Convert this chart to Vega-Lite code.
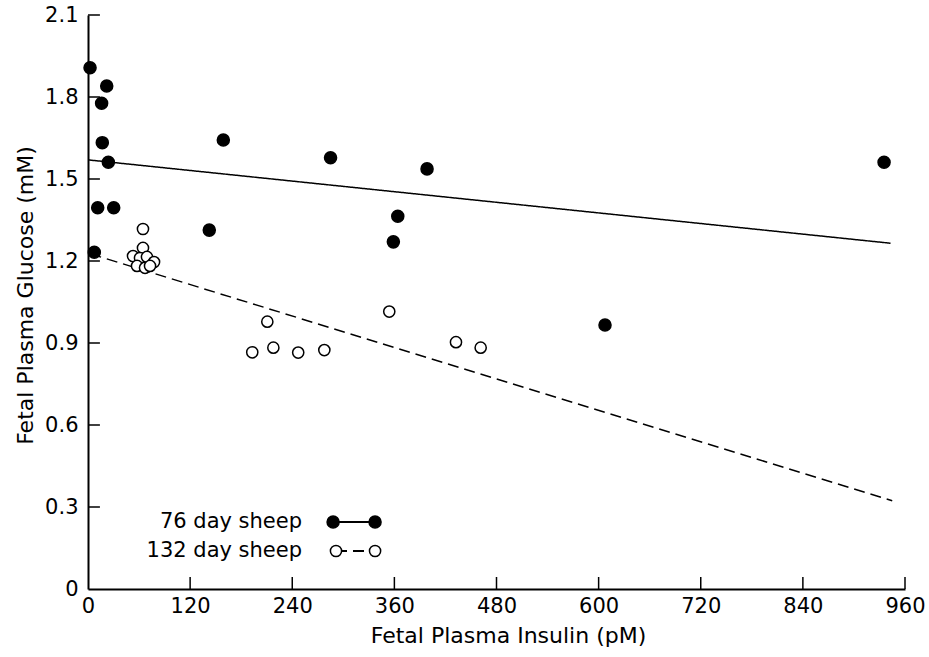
{
  "$schema": "https://vega.github.io/schema/vega-lite/v6.json",
  "width": 817,
  "height": 574,
  "autosize": "none",
  "padding": {"left": 88, "top": 15, "right": 24, "bottom": 68},
  "background": "white",
  "config": {
    "view": {"stroke": null},
    "font": "DejaVu Sans",
    "axis": {
      "grid": false,
      "domainColor": "black",
      "domainWidth": 2,
      "ticks": false,
      "labelFont": "DejaVu Sans",
      "labelFontSize": 21,
      "labelColor": "black",
      "titleFont": "DejaVu Sans",
      "titleFontSize": 22,
      "titleFontWeight": "normal",
      "titleColor": "black"
    }
  },
  "datasets": {
    "points": [
      {"series": "76 day sheep", "insulin": 2.4, "glucose": 1.907},
      {"series": "76 day sheep", "insulin": 22, "glucose": 1.84},
      {"series": "76 day sheep", "insulin": 16, "glucose": 1.777},
      {"series": "76 day sheep", "insulin": 16.8, "glucose": 1.633},
      {"series": "76 day sheep", "insulin": 23.9, "glucose": 1.561},
      {"series": "76 day sheep", "insulin": 11.4, "glucose": 1.395},
      {"series": "76 day sheep", "insulin": 30.2, "glucose": 1.395},
      {"series": "76 day sheep", "insulin": 7.4, "glucose": 1.232},
      {"series": "76 day sheep", "insulin": 142.5, "glucose": 1.313},
      {"series": "76 day sheep", "insulin": 159, "glucose": 1.643},
      {"series": "76 day sheep", "insulin": 285, "glucose": 1.578},
      {"series": "76 day sheep", "insulin": 398.4, "glucose": 1.537},
      {"series": "76 day sheep", "insulin": 364, "glucose": 1.364},
      {"series": "76 day sheep", "insulin": 358.8, "glucose": 1.27},
      {"series": "76 day sheep", "insulin": 607.5, "glucose": 0.966},
      {"series": "76 day sheep", "insulin": 935.4, "glucose": 1.561},
      {"series": "132 day sheep", "insulin": 64.6, "glucose": 1.317},
      {"series": "132 day sheep", "insulin": 64.6, "glucose": 1.248},
      {"series": "132 day sheep", "insulin": 52.9, "glucose": 1.218},
      {"series": "132 day sheep", "insulin": 61.1, "glucose": 1.211},
      {"series": "132 day sheep", "insulin": 69.3, "glucose": 1.215},
      {"series": "132 day sheep", "insulin": 77.6, "glucose": 1.196},
      {"series": "132 day sheep", "insulin": 57.6, "glucose": 1.182},
      {"series": "132 day sheep", "insulin": 67.0, "glucose": 1.175},
      {"series": "132 day sheep", "insulin": 72.9, "glucose": 1.182},
      {"series": "132 day sheep", "insulin": 210.7, "glucose": 0.978},
      {"series": "132 day sheep", "insulin": 193, "glucose": 0.866},
      {"series": "132 day sheep", "insulin": 217.8, "glucose": 0.883},
      {"series": "132 day sheep", "insulin": 247, "glucose": 0.865},
      {"series": "132 day sheep", "insulin": 277.7, "glucose": 0.874},
      {"series": "132 day sheep", "insulin": 354, "glucose": 1.015},
      {"series": "132 day sheep", "insulin": 432.4, "glucose": 0.903},
      {"series": "132 day sheep", "insulin": 461.4, "glucose": 0.883}
    ],
    "fits": [
      {"series": "76 day sheep", "insulin": 0, "glucose": 1.57},
      {"series": "76 day sheep", "insulin": 943, "glucose": 1.265},
      {"series": "132 day sheep", "insulin": 3, "glucose": 1.226},
      {"series": "132 day sheep", "insulin": 945, "glucose": 0.323}
    ],
    "legendText": [
      {"series": "76 day sheep", "insulin": 251.5, "glucose": 0.245},
      {"series": "132 day sheep", "insulin": 251.5, "glucose": 0.139}
    ],
    "legendMarks": [
      {"series": "76 day sheep", "insulin": 288, "glucose": 0.245},
      {"series": "76 day sheep", "insulin": 337.3, "glucose": 0.245},
      {"series": "132 day sheep", "insulin": 291.4, "glucose": 0.139},
      {"series": "132 day sheep", "insulin": 337.3, "glucose": 0.139}
    ],
    "xticks": [
      {"insulin": 120, "glucose": 0, "glucose2": 0.044},
      {"insulin": 240, "glucose": 0, "glucose2": 0.044},
      {"insulin": 360, "glucose": 0, "glucose2": 0.044},
      {"insulin": 480, "glucose": 0, "glucose2": 0.044},
      {"insulin": 600, "glucose": 0, "glucose2": 0.044},
      {"insulin": 720, "glucose": 0, "glucose2": 0.044},
      {"insulin": 840, "glucose": 0, "glucose2": 0.044},
      {"insulin": 960, "glucose": 0, "glucose2": 0.044}
    ],
    "yticks": [
      {"glucose": 0.3, "insulin": 0, "insulin2": 14},
      {"glucose": 0.6, "insulin": 0, "insulin2": 14},
      {"glucose": 0.9, "insulin": 0, "insulin2": 14},
      {"glucose": 1.2, "insulin": 0, "insulin2": 14},
      {"glucose": 1.5, "insulin": 0, "insulin2": 14},
      {"glucose": 1.8, "insulin": 0, "insulin2": 14},
      {"glucose": 2.1, "insulin": 0, "insulin2": 14}
    ]
  },
  "encoding": {
    "x": {
      "field": "insulin",
      "type": "quantitative",
      "scale": {"domain": [0, 960], "nice": false, "zero": false},
      "axis": {"values": [0, 120, 240, 360, 480, 600, 720, 840, 960], "title": "Fetal Plasma Insulin (pM)", "labelPadding": 6, "titlePadding": 9, "titleX": 420, "labelFlush": false, "format": "d"}
    },
    "y": {
      "field": "glucose",
      "type": "quantitative",
      "scale": {"domain": [0, 2.1], "nice": false, "zero": false},
      "axis": {"values": [0, 0.3, 0.6, 0.9, 1.2, 1.5, 1.8, 2.1], "title": "Fetal Plasma Glucose (mM)", "labelPadding": 10, "titlePadding": 7, "titleY": 280, "labelFlush": false, "labelExpr": "datum.value == 0 ? '0' : format(datum.value, '.1f')"}
    }
  },
  "layer": [
    {
      "data": {"name": "xticks"},
      "mark": {"type": "rule", "color": "black", "strokeWidth": 1.5},
      "encoding": {"y2": {"field": "glucose2"}}
    },
    {
      "data": {"name": "yticks"},
      "mark": {"type": "rule", "color": "black", "strokeWidth": 1.5},
      "encoding": {"x2": {"field": "insulin2"}}
    },
    {
      "data": {"name": "fits"},
      "mark": {"type": "line", "color": "black", "strokeWidth": 1.5},
      "encoding": {
        "detail": {"field": "series"},
        "strokeDash": {"field": "series", "type": "nominal", "scale": {"domain": ["76 day sheep", "132 day sheep"], "range": [[1, 0], [11, 6]]}, "legend": null}
      }
    },
    {
      "data": {"name": "points"},
      "mark": {"type": "point", "shape": "circle", "stroke": "black", "strokeWidth": 1.5, "opacity": 1},
      "encoding": {
        "fill": {"field": "series", "type": "nominal", "scale": {"domain": ["76 day sheep", "132 day sheep"], "range": ["black", "white"]}, "legend": null},
        "size": {"field": "series", "type": "nominal", "scale": {"domain": ["76 day sheep", "132 day sheep"], "range": [145, 125]}, "legend": null}
      }
    },
    {
      "data": {"name": "legendMarks"},
      "mark": {"type": "line", "color": "black", "strokeWidth": 2},
      "encoding": {
        "detail": {"field": "series"},
        "strokeDash": {"field": "series", "type": "nominal", "scale": {"domain": ["76 day sheep", "132 day sheep"], "range": [[1, 0], [6, 5]]}, "legend": null}
      }
    },
    {
      "data": {"name": "legendMarks"},
      "mark": {"type": "point", "shape": "circle", "stroke": "black", "strokeWidth": 1.5, "opacity": 1},
      "encoding": {
        "fill": {"field": "series", "type": "nominal", "scale": {"domain": ["76 day sheep", "132 day sheep"], "range": ["black", "white"]}, "legend": null},
        "size": {"field": "series", "type": "nominal", "scale": {"domain": ["76 day sheep", "132 day sheep"], "range": [120, 75]}, "legend": null}
      }
    },
    {
      "data": {"name": "legendText"},
      "mark": {"type": "text", "align": "right", "baseline": "middle", "fontSize": 21, "font": "DejaVu Sans", "color": "black"},
      "encoding": {"text": {"field": "series"}}
    }
  ]
}
